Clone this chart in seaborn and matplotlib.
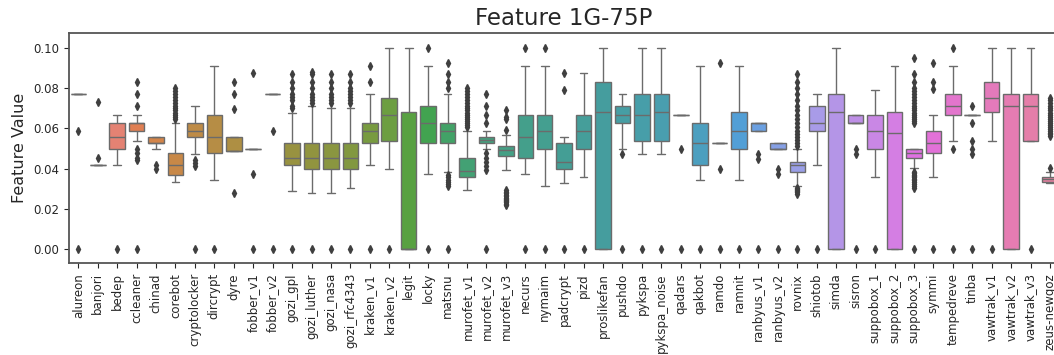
import numpy as np
import pandas as pd
import matplotlib
matplotlib.use("Agg")
import matplotlib.pyplot as plt
import seaborn as sns

# Per-family box statistics of the feature: quartiles, whisker ends and outliers
families = [
    "alureon", "banjori", "bedep", "ccleaner", "chinad", "corebot", "cryptolocker",
    "dircrypt", "dyre", "fobber_v1", "fobber_v2", "gozi_gpl", "gozi_luther",
    "gozi_nasa", "gozi_rfc4343", "kraken_v1", "kraken_v2", "legit", "locky",
    "matsnu", "murofet_v1", "murofet_v2", "murofet_v3", "necurs", "nymaim",
    "padcrypt", "pizd", "proslikefan", "pushdo", "pykspa", "pykspa_noise",
    "qadars", "qakbot", "ramdo", "ramnit", "ranbyus_v1", "ranbyus_v2", "rovnix",
    "shiotob", "simda", "sisron", "suppobox_1", "suppobox_2", "suppobox_3",
    "symmi", "tempedreve", "tinba", "vawtrak_v1", "vawtrak_v2", "vawtrak_v3",
    "zeus-newgoz",
]

q1 = [
    0.0769, 0.0417, 0.0500, 0.0588, 0.0526, 0.0370, 0.0556,
    0.0476, 0.0488, 0.0500, 0.0769, 0.0417, 0.0400,
    0.0400, 0.0400, 0.0526, 0.0537, 0.0000, 0.0526,
    0.0526, 0.0360, 0.0526, 0.0465, 0.0455, 0.0500,
    0.0400, 0.0500, 0.0000, 0.0625, 0.0537, 0.0537,
    0.0667, 0.0417, 0.0526, 0.0500, 0.0588, 0.0500, 0.0385,
    0.0588, 0.0000, 0.0625, 0.0500, 0.0000, 0.0455,
    0.0476, 0.0667, 0.0667, 0.0684, 0.0000, 0.0537,
    0.0336,
]

median = [
    0.0769, 0.0417, 0.0556, 0.0625, 0.0526, 0.0417, 0.0588,
    0.0556, 0.0488, 0.0500, 0.0769, 0.0455, 0.0455,
    0.0455, 0.0455, 0.0588, 0.0667, 0.0000, 0.0625,
    0.0588, 0.0387, 0.0541, 0.0491, 0.0556, 0.0588,
    0.0435, 0.0588, 0.0684, 0.0667, 0.0667, 0.0684,
    0.0667, 0.0526, 0.0526, 0.0588, 0.0625, 0.0500, 0.0417,
    0.0625, 0.0684, 0.0625, 0.0588, 0.0579, 0.0479,
    0.0526, 0.0714, 0.0667, 0.0752, 0.0714, 0.0714,
    0.0347,
]

q3 = [
    0.0769, 0.0417, 0.0625, 0.0625, 0.0556, 0.0476, 0.0625,
    0.0667, 0.0556, 0.0500, 0.0769, 0.0526, 0.0526,
    0.0526, 0.0526, 0.0625, 0.0750, 0.0684, 0.0714,
    0.0625, 0.0455, 0.0556, 0.0513, 0.0667, 0.0667,
    0.0526, 0.0667, 0.0833, 0.0714, 0.0769, 0.0769,
    0.0667, 0.0625, 0.0526, 0.0684, 0.0625, 0.0526, 0.0435,
    0.0714, 0.0769, 0.0667, 0.0667, 0.0684, 0.0500,
    0.0588, 0.0769, 0.0667, 0.0833, 0.0769, 0.0769,
    0.0359,
]

whisker_low = [
    0.0769, 0.0417, 0.0417, 0.0540, 0.0500, 0.0333, 0.0471,
    0.0345, 0.0488, 0.0500, 0.0769, 0.0289, 0.0279,
    0.0279, 0.0302, 0.0417, 0.0400, 0.0000, 0.0375,
    0.0385, 0.0296, 0.0500, 0.0395, 0.0375, 0.0314,
    0.0327, 0.0360, 0.0000, 0.0500, 0.0471, 0.0471,
    0.0667, 0.0345, 0.0526, 0.0342, 0.0588, 0.0500, 0.0313,
    0.0417, 0.0000, 0.0625, 0.0359, 0.0000, 0.0402,
    0.0360, 0.0537, 0.0667, 0.0537, 0.0000, 0.0537,
    0.0327,
]

whisker_high = [
    0.0769, 0.0417, 0.0667, 0.0667, 0.0556, 0.0625, 0.0714,
    0.0909, 0.0556, 0.0500, 0.0769, 0.0676, 0.0714,
    0.0700, 0.0700, 0.0769, 0.1000, 0.1000, 0.0909,
    0.0769, 0.0588, 0.0588, 0.0570, 0.0909, 0.0909,
    0.0556, 0.0876, 0.1000, 0.0769, 0.1000, 0.1000,
    0.0667, 0.0909, 0.0526, 0.0909, 0.0625, 0.0526, 0.0500,
    0.0769, 0.1000, 0.0667, 0.0790, 0.0909, 0.0500,
    0.0667, 0.0909, 0.0667, 0.1000, 0.1000, 0.1000,
    0.0383,
]

outliers = [
    [0.0588, 0.0],                                              # alureon
    [0.0732, 0.0455],                                           # banjori
    [0.0],                                                      # bedep
    [0.0833, 0.0769, 0.0714, 0.0500, 0.0476, 0.0455, 0.0441, 0.0],  # ccleaner
    [0.0417, 0.0400],                                           # chinad
    [0.0645, 0.0658, 0.0667, 0.0678, 0.0690, 0.0702, 0.0714,
     0.0727, 0.0741, 0.0755, 0.0769, 0.0784, 0.0800],           # corebot
    [0.0441, 0.0426, 0.0413, 0.0],                              # cryptolocker
    [0.0],                                                      # dircrypt
    [0.0833, 0.0769, 0.0696, 0.0279],                           # dyre
    [0.0878, 0.0375, 0.0],                                      # fobber_v1
    [0.0588, 0.0],                                              # fobber_v2
    [0.0702, 0.0714, 0.0741, 0.0755, 0.0769, 0.0800, 0.0833, 0.0870, 0.0],  # gozi_gpl
    [0.0727, 0.0741, 0.0755, 0.0769, 0.0800, 0.0833, 0.0870, 0.0882, 0.0],  # gozi_luther
    [0.0727, 0.0741, 0.0755, 0.0769, 0.0800, 0.0833, 0.0870, 0.0],  # gozi_nasa
    [0.0727, 0.0741, 0.0755, 0.0769, 0.0784, 0.0800, 0.0833, 0.0870, 0.0],  # gozi_rfc4343
    [0.0909, 0.0833, 0.0],                                      # kraken_v1
    [0.0],                                                      # kraken_v2
    [],                                                         # legit
    [0.1000, 0.0],                                              # locky
    [0.0926, 0.0870, 0.0833, 0.0800, 0.0370, 0.0357, 0.0345,
     0.0333, 0.0323, 0.0313, 0.0],                              # matsnu
    [0.0606, 0.0615, 0.0625, 0.0635, 0.0645, 0.0656, 0.0667, 0.0678,
     0.0690, 0.0702, 0.0714, 0.0727, 0.0741, 0.0755, 0.0769, 0.0784, 0.0800],  # murofet_v1
    [0.0769, 0.0714, 0.0667, 0.0625, 0.0476, 0.0455, 0.0435,
     0.0413, 0.0392, 0.0],                                      # murofet_v2
    [0.0690, 0.0658, 0.0645, 0.0592, 0.0294, 0.0286, 0.0278, 0.0270,
     0.0263, 0.0256, 0.0250, 0.0244, 0.0238, 0.0233, 0.0227, 0.0222],  # murofet_v3
    [0.1000, 0.0],                                              # necurs
    [0.1000, 0.0],                                              # nymaim
    [0.0876, 0.0793, 0.0],                                      # padcrypt
    [0.0],                                                      # pizd
    [],                                                         # proslikefan
    [0.0471, 0.0],                                              # pushdo
    [0.0],                                                      # pykspa
    [0.0],                                                      # pykspa_noise
    [0.0500, 0.0],                                              # qadars
    [0.0],                                                      # qakbot
    [0.0924, 0.0400, 0.0],                                      # ramdo
    [0.0],                                                      # ramnit
    [0.0471, 0.0446, 0.0],                                      # ranbyus_v1
    [0.0400, 0.0375, 0.0],                                      # ranbyus_v2
    [0.0513, 0.0526, 0.0541, 0.0556, 0.0571, 0.0588, 0.0606, 0.0625,
     0.0645, 0.0667, 0.0690, 0.0714, 0.0741, 0.0769, 0.0800, 0.0833,
     0.0870, 0.0306, 0.0300, 0.0295, 0.0290, 0.0285, 0.0273, 0.0],  # rovnix
    [0.0],                                                      # shiotob
    [],                                                         # simda
    [0.0500, 0.0471, 0.0],                                      # sisron
    [0.0],                                                      # suppobox_1
    [],                                                         # suppobox_2
    [0.0952, 0.0870, 0.0833, 0.0800, 0.0784, 0.0769, 0.0755, 0.0741,
     0.0727, 0.0714, 0.0702, 0.0690, 0.0678, 0.0667, 0.0656, 0.0645,
     0.0635, 0.0625, 0.0385, 0.0377, 0.0370, 0.0364, 0.0357, 0.0350,
     0.0345, 0.0333, 0.0323, 0.0313, 0.0303, 0.0],              # suppobox_3
    [0.0924, 0.0833, 0.0797, 0.0],                              # symmi
    [0.1000, 0.0500, 0.0],                                      # tempedreve
    [0.0714, 0.0625, 0.0537, 0.0500, 0.0471, 0.0],              # tinba
    [0.0],                                                      # vawtrak_v1
    [],                                                         # vawtrak_v2
    [0.0],                                                      # vawtrak_v3
    [0.0752, 0.0741, 0.0727, 0.0714, 0.0702, 0.0690, 0.0678, 0.0667,
     0.0656, 0.0645, 0.0635, 0.0625, 0.0615, 0.0606, 0.0597, 0.0588,
     0.0580, 0.0571, 0.0562, 0.0402],                           # zeus-newgoz
]


def sample_from_summary(lo, a, m, b, hi, extra, reps=200):
    """Observations whose quartiles, whisker ends and outliers equal the summary."""
    return [lo] + [a] * reps + [m] * reps + [b] * reps + [hi] + list(extra)


rows = []
for name, lo, a, m, b, hi, extra in zip(families, whisker_low, q1, median, q3,
                                        whisker_high, outliers):
    for v in sample_from_summary(lo, a, m, b, hi, extra):
        rows.append((name, v))
df = pd.DataFrame(rows, columns=["family", "value"])

sns.set_style("ticks")
plt.rcParams["font.family"] = ["DejaVu Sans"]

fig = plt.figure(figsize=(10.54, 3.55), dpi=100)
ax = fig.add_axes([0.0651, 0.2583, 0.9403, 0.6479])

sns.boxplot(
    data=df, x="family", y="value", hue="family", order=families,
    hue_order=families, palette=sns.husl_palette(len(families)),
    legend=False, linewidth=1.0, linecolor="#6b6b6b",
    flierprops=dict(marker="d", markersize=3.8, markerfacecolor="#3f3f3f",
                    markeredgecolor="#3f3f3f"),
    ax=ax,
)

ax.set_ylim(-0.007, 0.1073)
ax.set_yticks([0.0, 0.02, 0.04, 0.06, 0.08, 0.10])
ax.yaxis.set_major_formatter(matplotlib.ticker.FormatStrFormatter("%.2f"))
ax.set_xlabel("")
ax.set_ylabel("Feature Value", fontsize=11.5)
ax.set_title("Feature 1G-75P", fontsize=16.5)
ax.tick_params(axis="x", labelrotation=90, labelsize=8.5)
ax.tick_params(axis="y", labelsize=8.5)
for s in ax.spines.values():
    s.set_color("#555555")
    s.set_linewidth(1.3)

fig.savefig("out.png", dpi=100)
